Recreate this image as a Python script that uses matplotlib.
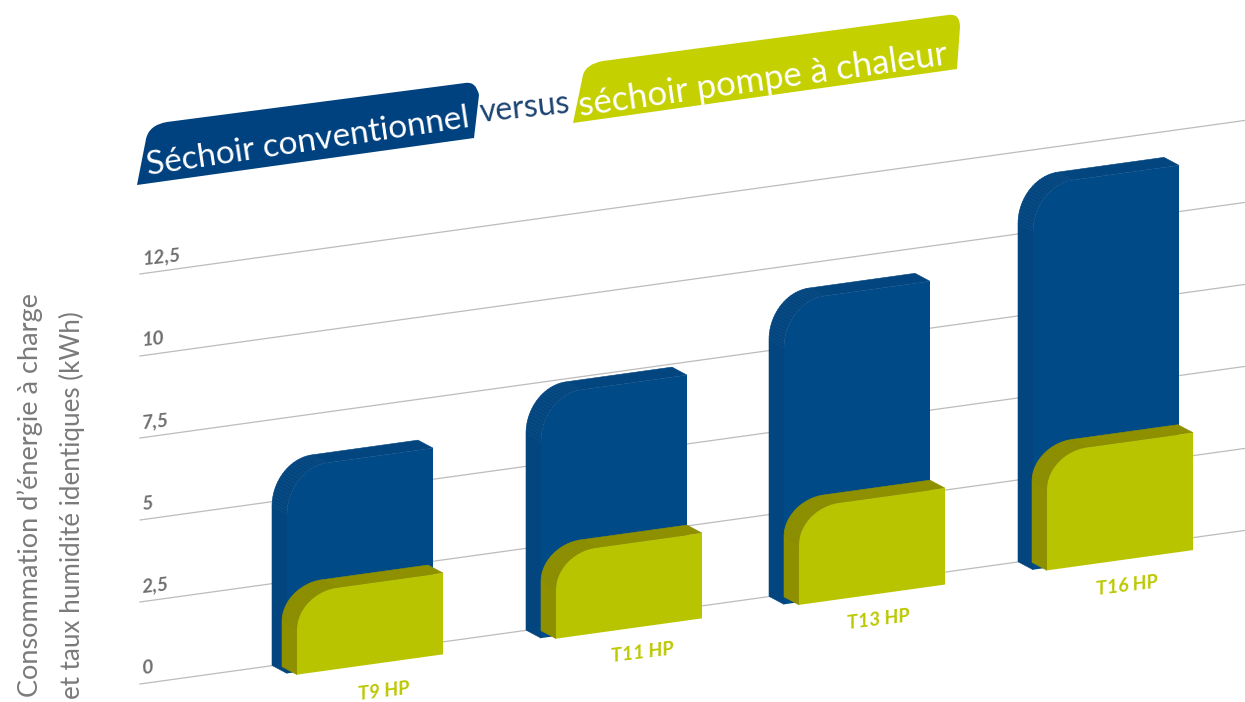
import numpy as np
import matplotlib
matplotlib.use("Agg")
import matplotlib.pyplot as plt
from matplotlib.patches import PathPatch
from matplotlib.path import Path
from matplotlib.transforms import Affine2D

# data (kWh at the top of each front face)
categories = ["T9 HP", "T11 HP", "T13 HP", "T16 HP"]
conventional = [5.95, 7.10, 8.93, 11.41]
heat_pump = [2.10, 2.22, 2.56, 3.20]
y_ticks = [0, 2.5, 5, 7.5, 10, 12.5]
y_tick_labels = ["0", "2,5", "5", "7,5", "10", "12,5"]

# layout, in pixels along the sheared x axis
blue_left = [287, 541, 784, 1033]
green_left = [297, 556, 799, 1047]
label_x = [384, 643, 879, 1127]
label_v = [-1.27, -1.19, -1.17, -1.2]
bar_w = 146

BLUE = "#004a87"
BLUE_SIDE = "#03457f"
GREEN = "#b9c400"
GREEN_SIDE = "#8f9000"
GREY = "#6e6e6e"

plt.rcParams["font.family"] = ["Lato", "DejaVu Sans"]

fig = plt.figure(figsize=(12.45, 7.02), dpi=100)
ax = fig.add_axes([0, 0, 1, 1])
ax.set_xlim(0, 1245)
ax.set_ylim((684 - 702) / 32.8, 684 / 32.8)
ax.axis("off")

# everything leans: y axis in kWh, rising to the right
k = 0.139 / 32.8
skew = Affine2D(np.array([[1, 0, 0], [k, 1, -k * 140], [0, 0, 1]])) + ax.transData
# pixel coords (top-left origin) for the title shapes
px = Affine2D().scale(1, -1).translate(0, 702)


def outline(x0, base, top, ru, rv):
    t = np.radians(np.linspace(0, 90, 24))
    xs = [x0] + list(x0 + ru - ru * np.cos(t)) + [x0 + bar_w, x0 + bar_w]
    vs = [base] + list(top - rv + rv * np.sin(t)) + [top, base]
    return np.array(xs), np.array(vs)


def draw_bar(x0, base, top, ru, rv, front, side, z):
    xs, vs = outline(x0, base, top, ru, rv)
    dx, dv = -15, 0.307
    for i in range(len(xs) - 2):
        ax.fill([xs[i], xs[i + 1], xs[i + 1] + dx, xs[i] + dx],
                [vs[i], vs[i + 1], vs[i + 1] + dv, vs[i] + dv],
                color=side, lw=0.4, transform=skew, zorder=z)
    ax.fill(xs, vs, color=front, lw=0, transform=skew, zorder=z + 0.1)


for v, lab in zip(y_ticks, y_tick_labels):
    ax.plot([140, 1245], [v, v], color="#bcbcbc", lw=0.9, transform=skew, zorder=1)
    ax.text(142, v + 0.47, lab, transform=skew, color=GREY, fontsize=14, style="italic",
            fontweight="bold", rotation=6, ha="left", va="center", rotation_mode="anchor")

for i in range(len(categories)):
    draw_bar(blue_left[i], -0.30, conventional[i], 40, 1.4, BLUE, BLUE_SIDE, 2 + i)
    draw_bar(green_left[i], -0.38, heat_pump[i], 40, 1.1, GREEN, GREEN_SIDE, 2.5 + i)
    ax.text(label_x[i], label_v[i], categories[i], transform=skew, color="#bcc800", fontsize=14,
            style="italic", fontweight="bold", rotation=7, ha="center", va="center",
            rotation_mode="anchor", zorder=10)

# y axis title
ax.text(30, 495, "Consommation d’énergie à charge", transform=px, rotation=90, fontsize=19.5,
        color="#7a7a7a", ha="center", va="center")
ax.text(72, 505, "et taux humidité identiques (kWh)", transform=px, rotation=90, fontsize=18.7,
        color="#7a7a7a", ha="center", va="center")

# title banners
C = Path.CURVE3
blue_box = [(137, 185), (146, 139), (149, 125), (167, 122), (465, 83), (476, 81), (479, 95),
            (474, 138), (137, 185)]
green_box = [(573, 123), (583, 75), (586, 64), (603, 61), (948, 15), (960, 13), (960, 27),
             (957, 69), (573, 123)]
codes = [Path.MOVETO, Path.LINETO, C, C, Path.LINETO, C, C, Path.LINETO, Path.CLOSEPOLY]
ax.add_patch(PathPatch(Path(blue_box, codes), fc="#00417f", ec="none", transform=px, zorder=5))
ax.add_patch(PathPatch(Path(green_box, codes), fc="#c4d000", ec="none", transform=px, zorder=5))

ax.text(308, 142, "Séchoir conventionnel", transform=px, color="white", fontsize=24,
        rotation=8.5, ha="center", va="center", zorder=6)
ax.text(525, 108, "versus", transform=px, color="#1d4472", fontsize=23,
        rotation=6, ha="center", va="center", zorder=6)
ax.text(763, 80, "séchoir pompe à chaleur", transform=px, color="white", fontsize=25,
        rotation=8, ha="center", va="center", zorder=6)

fig.savefig("out.png", dpi=100)
